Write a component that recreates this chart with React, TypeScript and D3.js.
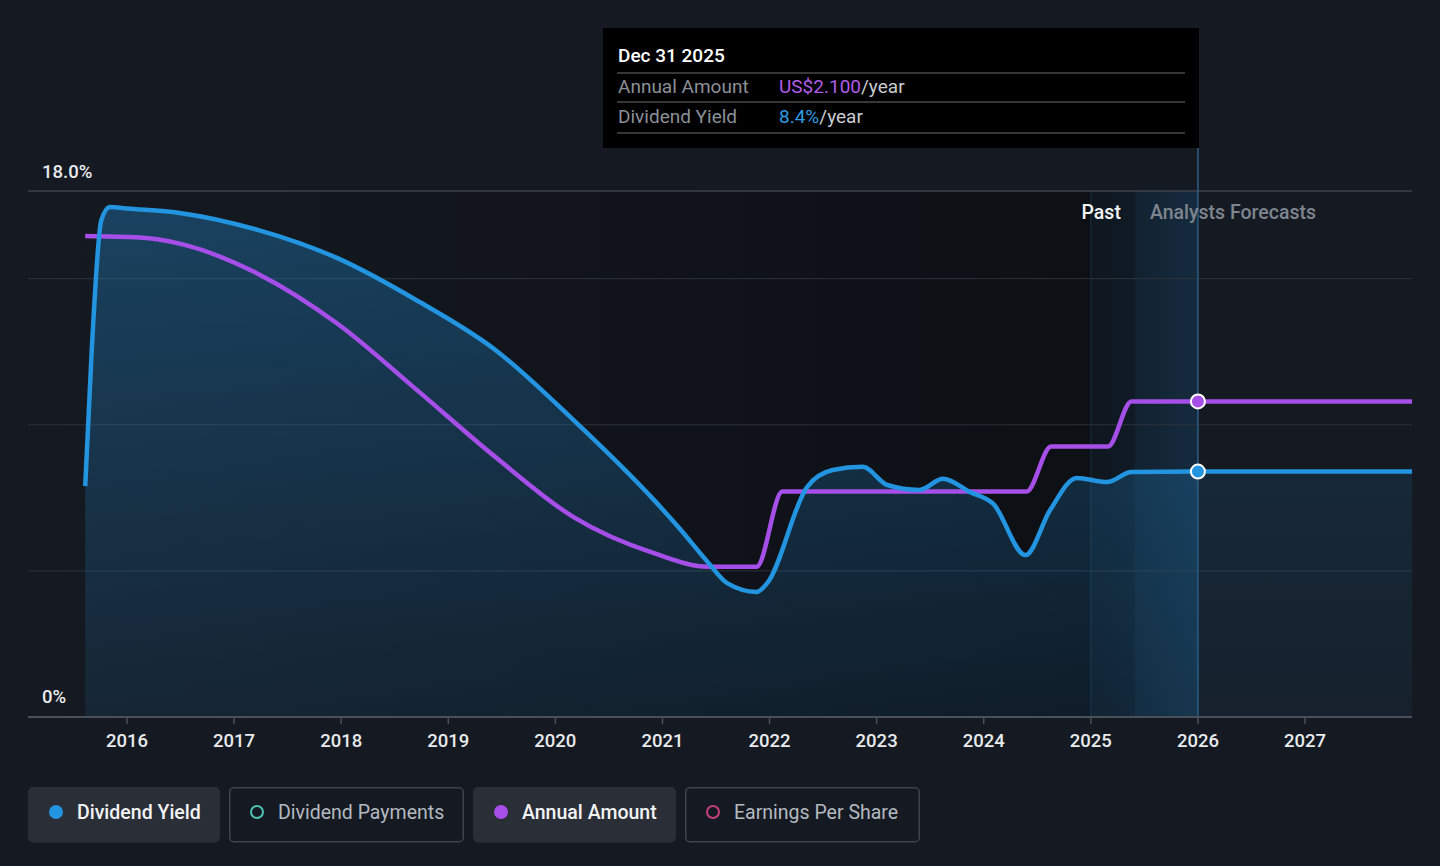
import React, { useEffect, useRef } from 'react';
import * as d3 from 'd3';

// Dividend yield (%) by decimal year
const yieldDates = [2015.61, 2015.67, 2015.76, 2015.84, 2016.0, 2016.49, 2017.22, 2017.96, 2018.7, 2019.44, 2020.17, 2020.92, 2021.16, 2021.43, 2021.6, 2021.88, 2021.98, 2022.35, 2022.59, 2022.87, 2023.1, 2023.4, 2023.62, 2023.87, 2024.09, 2024.39, 2024.62, 2024.87, 2025.15, 2025.38, 2026.0, 2028.0];
const yieldValues = [7.9, 12.5, 17.0, 17.45, 17.4, 17.25, 16.67, 15.71, 14.27, 12.56, 10.16, 7.43, 6.45, 5.27, 4.59, 4.28, 4.59, 7.87, 8.45, 8.56, 7.94, 7.77, 8.15, 7.7, 7.29, 5.54, 7.08, 8.18, 8.04, 8.38, 8.4, 8.4];

// Annual amount (US$) by decimal year
const amountDates = [2015.61, 2016.12, 2016.49, 2017.22, 2017.96, 2018.7, 2019.44, 2020.17, 2020.92, 2021.43, 2021.88, 2022.12, 2024.4, 2024.63, 2025.16, 2025.38, 2028.0];
const amountValues = [3.2, 3.19, 3.15, 2.95, 2.62, 2.18, 1.73, 1.33, 1.09, 1.0, 1.0, 1.5, 1.5, 1.8, 1.8, 2.1, 2.1];

const xTicks = [2016, 2017, 2018, 2019, 2020, 2021, 2022, 2023, 2024, 2025, 2026, 2027];
const yGrid = [5, 10, 15];
const yLabels = ['0%', '18.0%'];

const todayDate = 2026.0;
const pastStart = 2025.0;
const tooltipDate = 'Dec 31 2025';
const tooltipAmount = 'US$2.100';
const tooltipYield = '8.4%';

const legendItems = [
  { label: 'Dividend Yield', color: '#2394df', active: true },
  { label: 'Dividend Payments', color: '#4fc1b0', active: false },
  { label: 'Annual Amount', color: '#a64fe8', active: true },
  { label: 'Earnings Per Share', color: '#c4407c', active: false },
];

const BG = '#151a22';
const BLUE = '#2394df';
const PURPLE = '#a64fe8';

const DividendChart: React.FC = () => {
  const svgRef = useRef<SVGSVGElement | null>(null);

  useEffect(() => {
    if (!svgRef.current) return;
    const width = 1440;
    const height = 866;
    const left = 28, right = 1412, top = 191, bottom = 717;

    const svg = d3.select(svgRef.current);
    svg.selectAll('*').remove();
    svg.attr('width', width).attr('height', height);

    const x = d3.scaleLinear().domain([2016, 2027]).range([127, 1305]);
    const y = d3.scaleLinear().domain([0, 18]).range([bottom, top]);
    const yAmt = d3.scaleLinear().domain([0, 3.5]).range([bottom, top]);

    const font = 'Roboto, "Noto Sans", sans-serif';
    const defs = svg.append('defs');

    // backgrounds
    svg.append('rect').attr('width', width).attr('height', height).attr('fill', BG);

    const pastGrad = defs.append('linearGradient').attr('id', 'pastGrad').attr('x1', 0).attr('x2', 1).attr('y1', 0).attr('y2', 0);
    pastGrad.append('stop').attr('offset', '0%').attr('stop-color', '#0a0c10').attr('stop-opacity', 0);
    pastGrad.append('stop').attr('offset', '100%').attr('stop-color', '#0a0c10').attr('stop-opacity', 0.85);
    svg.append('rect')
      .attr('x', left).attr('y', top).attr('width', x(todayDate) - left).attr('height', bottom - top)
      .attr('fill', 'url(#pastGrad)');

    const bandGrad = defs.append('linearGradient').attr('id', 'bandGrad').attr('x1', 0).attr('x2', 1).attr('y1', 0).attr('y2', 0);
    bandGrad.append('stop').attr('offset', '0%').attr('stop-color', '#2a6fa3').attr('stop-opacity', 0.08);
    bandGrad.append('stop').attr('offset', '40%').attr('stop-color', '#2a6fa3').attr('stop-opacity', 0.12);
    bandGrad.append('stop').attr('offset', '42%').attr('stop-color', '#2a6fa3').attr('stop-opacity', 0.2);
    bandGrad.append('stop').attr('offset', '100%').attr('stop-color', '#2a6fa3').attr('stop-opacity', 0.3);
    svg.append('rect')
      .attr('x', x(pastStart)).attr('y', top).attr('width', x(todayDate) - x(pastStart)).attr('height', bottom - top)
      .attr('fill', 'url(#bandGrad)');
    svg.append('line')
      .attr('x1', x(pastStart)).attr('x2', x(pastStart)).attr('y1', top).attr('y2', bottom)
      .attr('stroke', '#2a4a66').attr('stroke-opacity', 0.5);

    // grid
    svg.selectAll('.grid').data(yGrid).enter().append('line')
      .attr('x1', left).attr('x2', right).attr('y1', d => y(d)).attr('y2', d => y(d))
      .attr('stroke', '#2c323b').attr('stroke-width', 1);
    svg.append('line').attr('x1', left).attr('x2', right).attr('y1', top).attr('y2', top)
      .attr('stroke', '#3d434c').attr('stroke-width', 1.5);

    // yield area
    const yieldData: [number, number][] = yieldDates.map((d, i) => [d, yieldValues[i]]);
    const amountData: [number, number][] = amountDates.map((d, i) => [d, amountValues[i]]);

    const areaGrad = defs.append('linearGradient').attr('id', 'areaGrad')
      .attr('gradientUnits', 'userSpaceOnUse').attr('x1', 0).attr('x2', 0).attr('y1', top).attr('y2', bottom);
    areaGrad.append('stop').attr('offset', '0%').attr('stop-color', '#2394df').attr('stop-opacity', 0.34);
    areaGrad.append('stop').attr('offset', '100%').attr('stop-color', '#2394df').attr('stop-opacity', 0.1);

    defs.append('clipPath').attr('id', 'clipPast').append('rect')
      .attr('x', 0).attr('y', 0).attr('width', x(todayDate)).attr('height', height);
    defs.append('clipPath').attr('id', 'clipFut').append('rect')
      .attr('x', x(todayDate)).attr('y', 0).attr('width', width).attr('height', height);

    const area = d3.area<[number, number]>()
      .x(d => x(d[0])).y0(bottom).y1(d => y(d[1])).curve(d3.curveMonotoneX);
    svg.append('path').datum(yieldData).attr('d', area).attr('fill', 'url(#areaGrad)').attr('clip-path', 'url(#clipPast)');
    svg.append('path').datum(yieldData).attr('d', area).attr('fill', 'url(#areaGrad)').attr('opacity', 0.55).attr('clip-path', 'url(#clipFut)');

    // today line
    svg.append('line').attr('x1', x(todayDate)).attr('x2', x(todayDate)).attr('y1', 148).attr('y2', bottom)
      .attr('stroke', '#2b5d85').attr('stroke-width', 1.5);

    // bottom axis
    svg.append('line').attr('x1', left).attr('x2', right).attr('y1', bottom).attr('y2', bottom)
      .attr('stroke', '#4a5059').attr('stroke-width', 2);
    svg.selectAll('.xtick').data(xTicks).enter().append('line')
      .attr('x1', d => x(d)).attr('x2', d => x(d)).attr('y1', bottom).attr('y2', bottom + 7)
      .attr('stroke', '#4a5059').attr('stroke-width', 1.5);
    svg.selectAll('.xlabel').data(xTicks).enter().append('text')
      .attr('x', d => x(d)).attr('y', 747).attr('text-anchor', 'middle')
      .attr('font-family', font).attr('font-size', 18.5).attr('font-weight', 500).attr('fill', '#e8eaed')
      .text(d => d);

    // y labels
    svg.append('text').attr('x', 42).attr('y', 178).attr('font-family', font).attr('font-size', 18.5)
      .attr('font-weight', 500).attr('fill', '#e8eaed').text(yLabels[1]);
    svg.append('text').attr('x', 42).attr('y', 703).attr('font-family', font).attr('font-size', 18.5)
      .attr('font-weight', 500).attr('fill', '#e8eaed').text(yLabels[0]);

    // lines
    const lineY = d3.line<[number, number]>().x(d => x(d[0])).y(d => y(d[1])).curve(d3.curveMonotoneX);
    const lineA = d3.line<[number, number]>().x(d => x(d[0])).y(d => yAmt(d[1])).curve(d3.curveMonotoneX);
    svg.append('path').datum(amountData).attr('d', lineA).attr('fill', 'none')
      .attr('stroke', PURPLE).attr('stroke-width', 4.5).attr('stroke-linejoin', 'round');
    svg.append('path').datum(yieldData).attr('d', lineY).attr('fill', 'none')
      .attr('stroke', BLUE).attr('stroke-width', 4.5).attr('stroke-linejoin', 'round');

    // markers
    const yAtToday = yieldValues[yieldDates.indexOf(todayDate)];
    const aAtToday = amountValues[amountDates.length - 1];
    svg.append('circle').attr('cx', x(todayDate)).attr('cy', yAmt(aAtToday)).attr('r', 7)
      .attr('fill', PURPLE).attr('stroke', '#fff').attr('stroke-width', 2);
    svg.append('circle').attr('cx', x(todayDate)).attr('cy', y(yAtToday)).attr('r', 7)
      .attr('fill', BLUE).attr('stroke', '#fff').attr('stroke-width', 2);

    // past / forecast labels
    svg.append('text').attr('x', x(todayDate) - 77).attr('y', 219).attr('text-anchor', 'end')
      .attr('font-family', font).attr('font-size', 19.5).attr('font-weight', 500).attr('fill', '#f2f3f5').text('Past');
    svg.append('text').attr('x', x(todayDate) - 48).attr('y', 219)
      .attr('font-family', font).attr('font-size', 19.5).attr('font-weight', 500).attr('fill', '#7e858f').text('Analysts Forecasts');

    // tooltip
    const tt = svg.append('g');
    tt.append('rect').attr('x', 603).attr('y', 28).attr('width', 596).attr('height', 120).attr('fill', '#000');
    tt.append('text').attr('x', 618).attr('y', 62).attr('font-family', font).attr('font-size', 19)
      .attr('font-weight', 500).attr('fill', '#fff').text(tooltipDate);
    [73, 102, 133].forEach(v => {
      tt.append('line').attr('x1', 617).attr('x2', 1185).attr('y1', v).attr('y2', v).attr('stroke', '#4a4a4a').attr('stroke-width', 1.5);
    });
    tt.append('text').attr('x', 618).attr('y', 93).attr('font-family', font).attr('font-size', 19)
      .attr('fill', '#8b9098').text('Annual Amount');
    const t1 = tt.append('text').attr('x', 779).attr('y', 93).attr('font-family', font).attr('font-size', 19);
    t1.append('tspan').attr('fill', '#b15de9').text(tooltipAmount);
    t1.append('tspan').attr('fill', '#c9ccd1').text('/year');
    tt.append('text').attr('x', 618).attr('y', 123).attr('font-family', font).attr('font-size', 19)
      .attr('fill', '#8b9098').text('Dividend Yield');
    const t2 = tt.append('text').attr('x', 779).attr('y', 123).attr('font-family', font).attr('font-size', 19);
    t2.append('tspan').attr('fill', '#2f9be2').text(tooltipYield);
    t2.append('tspan').attr('fill', '#c9ccd1').text('/year');

    // legend
    const widths = [192, 235, 203, 235];
    let lx = 28;
    legendItems.forEach((item, i) => {
      const g = svg.append('g').attr('transform', `translate(${lx},787)`);
      g.append('rect').attr('x', 0.75).attr('y', 0.75).attr('width', widths[i] - 1.5).attr('height', 54).attr('rx', 4)
        .attr('fill', item.active ? '#2a2e36' : 'none')
        .attr('stroke', item.active ? '#2a2e36' : '#3e434b').attr('stroke-width', 1.5);
      g.append('circle').attr('cx', 28).attr('cy', 25).attr('r', item.active ? 7 : 6)
        .attr('fill', item.active ? item.color : 'none')
        .attr('stroke', item.color).attr('stroke-width', item.active ? 0 : 2);
      g.append('text').attr('x', 49).attr('y', 32).attr('font-family', font).attr('font-size', 19.5)
        .attr('font-weight', item.active ? 500 : 400)
        .attr('fill', item.active ? '#f2f3f5' : '#b4b9c0').text(item.label);
      lx += widths[i] + 9;
    });
  }, []);

  return <svg ref={svgRef} style={{ display: 'block' }} />;
};

export default function App() {
  return (
    <div style={{ position: 'fixed', left: 0, top: 0, width: 1440, height: 866, background: BG, overflow: 'hidden' }}>
      <DividendChart />
    </div>
  );
}
